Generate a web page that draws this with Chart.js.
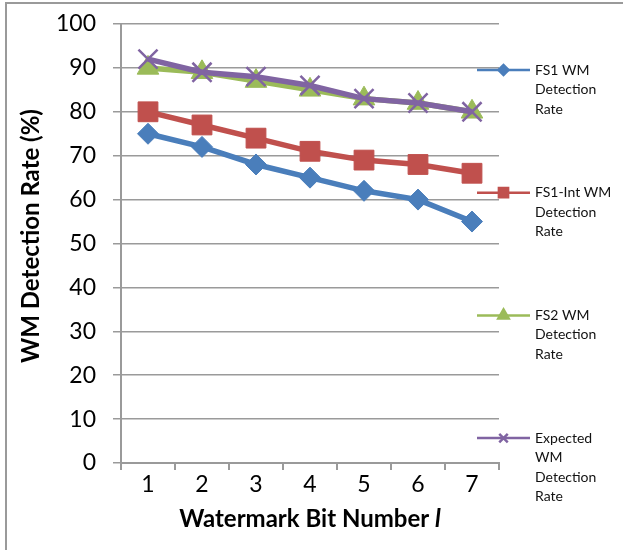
<!DOCTYPE html>
<html>
<head>
<meta charset="utf-8">
<script src="https://cdn.jsdelivr.net/npm/chart.js@4/dist/chart.umd.min.js"></script>
<style>
  html, body { margin: 0; padding: 0; background: #fff; }
  #wrap { position: relative; width: 623px; height: 550px; overflow: hidden; }
  #frame { position: absolute; left: 5px; top: 2px; width: 700px; height: 700px;
           border-left: 2px solid #9a9a9a; border-top: 2px solid #9a9a9a; box-sizing: border-box; }
  canvas { position: absolute; left: 0; top: 0; }
</style>
</head>
<body>
<div id="wrap">
  <div id="frame"></div>
  <canvas id="c" width="623" height="550"></canvas>
</div>
<script>
// Watermark bit positions
const bitNumbers = ['1', '2', '3', '4', '5', '6', '7'];

// Detection rates (%) per bit
const fs1Rate      = [75, 72, 68, 65, 62, 60, 55];
const fs1IntRate   = [80, 77, 74, 71, 69, 68, 66];
const fs2Rate      = [90, 89, 87, 85, 83, 82, 80];
const expectedRate = [92, 89, 88, 86, 83, 82, 80];

// Legend labels, one line per entry row
const seriesNames = [
  ['FS1 WM', 'Detection', 'Rate'],
  ['FS1-Int WM', 'Detection', 'Rate'],
  ['FS2 WM', 'Detection', 'Rate'],
  ['Expected', 'WM', 'Detection', 'Rate']
];

const yTitle = 'WM Detection Rate (%)';
const xTitleMain = 'Watermark Bit Number ';
const xTitleVar = 'l';

const FONT = 'Lato, "Open Sans", sans-serif';
const GRID = '#9a9a9a';

function series(label, data, color, style, radius, order) {
  return {
    label, data,
    borderColor: color, backgroundColor: color,
    borderWidth: 5.5, tension: 0,
    pointStyle: style, pointRadius: radius, pointHoverRadius: radius,
    pointBorderWidth: style === 'crossRot' ? 2.5 : 1,
    pointBackgroundColor: color, pointBorderColor: color,
    order
  };
}

// Right-hand legend and axis titles
const decorations = {
  id: 'decorations',
  afterDraw(chart) {
    const ctx = chart.ctx;
    const area = chart.chartArea;
    ctx.save();

    // legend
    const legendSymbol = [
      { style: 'rectRot', r: 5 },
      { style: 'rect', r: 6.5 },
      { style: 'triangle', r: 6 },
      { style: 'crossRot', r: 6 }
    ];
    const x0 = 477, x1 = 530, tx = 535;
    const top = 70, step = 122.7, lh = 19.5;
    chart.data.datasets.forEach((ds, i) => {
      const y = top + i * step;
      ctx.strokeStyle = ds.borderColor;
      ctx.fillStyle = ds.borderColor;
      ctx.lineWidth = 2.5;
      ctx.beginPath();
      ctx.moveTo(x0, y);
      ctx.lineTo(x1, y);
      ctx.stroke();
      Chart.helpers.drawPoint(ctx, {
        pointStyle: legendSymbol[i].style,
        radius: legendSymbol[i].r,
        borderWidth: legendSymbol[i].style === 'crossRot' ? 2 : 1,
        rotation: 0
      }, (x0 + x1) / 2, y);
      ctx.fillStyle = '#111';
      ctx.font = '14px ' + FONT;
      ctx.textAlign = 'left';
      ctx.textBaseline = 'middle';
      seriesNames[i].forEach((t, k) => ctx.fillText(t, tx, y + k * lh));
    });

    // y axis title
    ctx.fillStyle = '#000';
    ctx.font = 'bold 24px ' + FONT;
    ctx.textAlign = 'center';
    ctx.textBaseline = 'middle';
    ctx.save();
    ctx.translate(31, 236);
    ctx.rotate(-Math.PI / 2);
    ctx.fillText(yTitle, 0, 0);
    ctx.restore();

    // x axis title with italic variable
    const fMain = 'bold 24px ' + FONT;
    const fVar = 'italic bold 24px ' + FONT;
    ctx.font = fMain;
    const w1 = ctx.measureText(xTitleMain).width;
    ctx.font = fVar;
    const w2 = ctx.measureText(xTitleVar).width;
    const cx = (area.left + area.right) / 2;
    let sx = cx - (w1 + w2) / 2;
    ctx.textAlign = 'left';
    ctx.font = fMain;
    ctx.fillText(xTitleMain, sx, 519);
    ctx.font = fVar;
    ctx.fillText(xTitleVar, sx + w1, 519);
    ctx.restore();
  }
};

new Chart(document.getElementById('c'), {
  type: 'line',
  data: {
    labels: bitNumbers,
    datasets: [
      series('FS1 WM Detection Rate', fs1Rate, '#4a7ebb', 'rectRot', 10.5, 3),
      series('FS1-Int WM Detection Rate', fs1IntRate, '#c0504d', 'rect', 14, 2),
      series('FS2 WM Detection Rate', fs2Rate, '#9bbb59', 'triangle', 12.5, 1),
      series('Expected WM Detection Rate', expectedRate, '#8064a2', 'crossRot', 13.5, 0)
    ]
  },
  options: {
    responsive: false,
    animation: false,
    events: [],
    layout: { padding: { left: 0, top: 24, right: 124, bottom: 0 } },
    plugins: { legend: { display: false }, tooltip: { enabled: false } },
    scales: {
      x: {
        offset: true,
        grid: { display: true, drawOnChartArea: false, drawTicks: true, tickLength: 7,
                color: GRID, lineWidth: 2, offset: true },
        border: { display: true, color: GRID, width: 2 },
        ticks: { color: '#000', font: { family: FONT, size: 23 }, padding: 1, maxRotation: 0 },
        afterFit(scale) { scale.height = 87; scale.paddingLeft = 0; scale.paddingRight = 0; }
      },
      y: {
        min: 0, max: 100,
        grid: { color: GRID, lineWidth: 1.5, tickLength: 8, drawTicks: true },
        border: { display: true, color: GRID, width: 2 },
        ticks: { stepSize: 10, color: '#000', font: { family: FONT, size: 23 }, padding: 17 },
        afterFit(scale) { scale.width = 121; scale.paddingTop = 0; scale.paddingBottom = 0; }
      }
    }
  },
  plugins: [decorations]
});
</script>
</body>
</html>
